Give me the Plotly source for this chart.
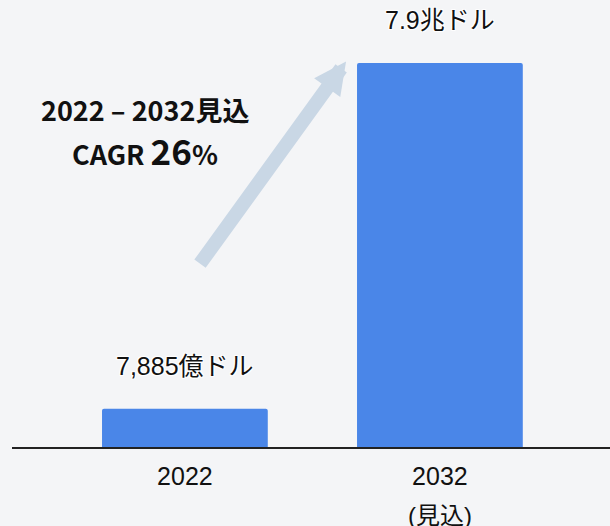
import plotly.graph_objects as go

categories = ["2022", "2032"]
tick_labels = ["2022", "2032"]
tick_sublabels = ["", "(見込)"]
values = [0.7885, 7.9]  # 兆ドル
value_labels = ["7,885億ドル", "7.9兆ドル"]
cagr_line1 = "2022 – 2032見込"
cagr_rate = "26"

BG = "#f4f5f7"
BAR = "#4a86e8"
ARROW = "#c9d7e5"
REG = "Liberation Sans, Noto Sans CJK JP, sans-serif"
BOLD = "Noto Sans CJK JP, sans-serif"
halo = "1px 1px 1px #fff, -1px -1px 1px #fff, 1px -1px 1px #fff, -1px 1px 1px #fff"

fig = go.Figure()
fig.add_trace(go.Bar(
    x=categories, y=values, marker=dict(color=BAR, line=dict(width=0), cornerradius=2),
    width=0.65, hoverinfo="skip",
))

for i, (v, t) in enumerate(zip(values, value_labels)):
    fig.add_annotation(x=i, y=v, text=t, showarrow=False, yshift=43, yanchor="middle",
                       font=dict(family=REG, size=25, color="#111", shadow=halo))

for i, s in enumerate(tick_sublabels):
    if s:
        fig.add_annotation(x=i, y=0, text=s, showarrow=False, yshift=-68, yanchor="middle",
                           font=dict(family=REG, size=24, color="#111"))

# growth arrow
fig.add_annotation(x=0.632, y=7.93, ax=0.055, ay=3.74, axref="x", ayref="y", xref="x", yref="y",
                   text="", showarrow=True, arrowhead=2, arrowwidth=14, arrowsize=0.46,
                   arrowcolor=ARROW)

fig.add_annotation(xref="paper", yref="paper", x=(145 - 12) / 598, y=1 - 110 / 447,
                   text="<b>" + cagr_line1 + "</b>", showarrow=False, xanchor="center", yanchor="middle",
                   font=dict(family=BOLD, size=27, color="#111"))
fig.add_annotation(xref="paper", yref="paper", x=(145 - 12) / 598, y=1 - 150 / 447,
                   text="<b>CAGR <span style='font-size:35px'>" + cagr_rate + "</span>%</b>",
                   showarrow=False, xanchor="center", yanchor="middle",
                   font=dict(family=BOLD, size=27, color="#111"))

fig.update_layout(
    width=610, height=526, paper_bgcolor=BG, plot_bgcolor=BG,
    margin=dict(l=12, r=0, t=0, b=79), showlegend=False,
    xaxis=dict(type="category", range=[-0.678, 1.667], tickvals=categories, ticktext=tick_labels,
               showline=True, linecolor="#222", linewidth=1.5, showgrid=False, ticks="",
               ticklabelstandoff=6,
               tickfont=dict(family=REG, size=25, color="#111"), fixedrange=True),
    yaxis=dict(range=[0, 9.196], visible=False, fixedrange=True),
)
fig.write_html("out.html", config={"displayModeBar": False},
               post_script="document.body.style.margin='0';document.body.style.overflow='hidden';")
